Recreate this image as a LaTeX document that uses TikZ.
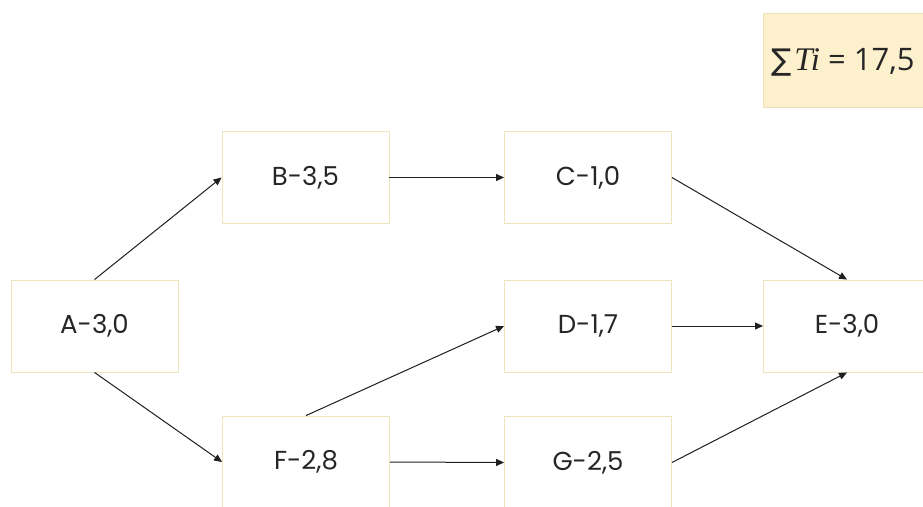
\documentclass[tikz,border=0pt]{standalone}
\usepackage{fontspec}
\setmainfont{Poppins}
\newfontfamily\sumfont{Open Sans}
\newfontfamily\sigmafont{DejaVu Sans}
\newfontfamily\tifont{Liberation Serif}
\usetikzlibrary{arrows.meta}
\definecolor{boxline}{RGB}{236,229,190}
\definecolor{sumfill}{RGB}{253,240,204}
\definecolor{sumline}{RGB}{240,226,184}
\definecolor{txt}{RGB}{38,38,38}
\tikzset{
  taskbox/.style={draw=boxline, line width=0.9pt, fill=white, minimum width=167pt, minimum height=92pt, inner sep=0pt, text=txt, font=\fontsize{26}{30}\selectfont},
  link/.style={draw=black!88, line width=1pt, -{Triangle[length=8pt,width=7pt]}}
}
\begin{document}
\begin{tikzpicture}[x=1pt,y=-1pt]
\clip (0,0) rectangle (923,506);
\fill[white] (0,0) rectangle (923,506);
\node[draw=sumline, fill=sumfill, line width=0.8pt, minimum width=180pt, minimum height=94pt, anchor=north west, inner sep=0pt] (sumbox) at (763,13) {};
\node[anchor=west, text=txt, inner sep=0pt] (sumtext) at (771,62) {{\sigmafont\fontsize{30}{36}\selectfont ∑}\hspace{3pt}{\tifont\itshape\fontsize{33}{36}\selectfont Ti}\sumfont\fontsize{31}{36}\selectfont{} = 17,5};
\node[taskbox] (A) at (94.5,326) {A-3,0};
\node[taskbox] (B) at (305.5,177.5) {B-3,5};
\node[taskbox] (C) at (588,177.5) {C-1,0};
\node[taskbox] (D) at (588,326) {D-1,7};
\node[taskbox] (E) at (847,326) {E-3,0};
\node[taskbox] (F) at (306,462) {F-2,8};
\node[taskbox] (G) at (588,462.5) {G-2,5};
\draw[link] (A.north) -- (B.west);
\draw[link] (A.south) -- (F.west);
\draw[link] (B.east) -- (C.west);
\draw[link] (C.east) -- (E.north);
\draw[link] (D.east) -- (E.west);
\draw[link] (F.north) -- (D.west);
\draw[link] (F.east) -- (G.west);
\draw[link] (G.east) -- (E.south);
\end{tikzpicture}
\end{document}
